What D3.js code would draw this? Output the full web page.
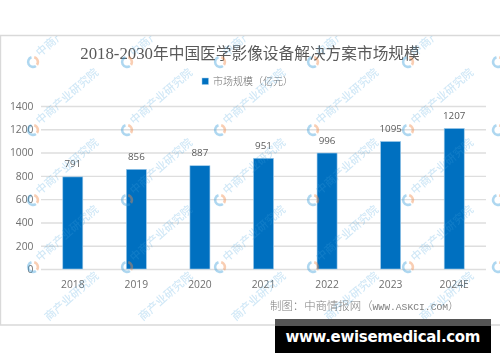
<!DOCTYPE html>
<html><head><meta charset="utf-8">
<script src="https://cdn.jsdelivr.net/npm/d3@7"></script>
<style>html,body{margin:0;padding:0;background:#fff}svg{display:block;filter:blur(0.25px)}</style></head>
<body><div id="c"></div>
<script>
const categories = ["2018","2019","2020","2021","2022","2023","2024E"];
const marketSize = [791,856,887,951,996,1095,1207];
const yTicks = [0,200,400,600,800,1000,1200,1400];
const titleYears = "2018-2030";
const titleRest = "年中国医学影像设备解决方案市场规模";
const legendText = "市场规模（亿元）";
const sourceCjk = "制图：中商情报网（";
const sourceUrl = "WWW.ASKCI.COM";
const sourceEnd = "）";
const bannerText = "www.ewisemedical.com";
const wmFull = "中商产业研究院";
const wmTop = "中商产";
const wmTail = "商产业研究院";
const wmCols = [33,127,220,313,408,498];
const wmRows = [62,130,200,267,335];

const W=500,H=362;
const svg=d3.select("#c").append("svg").attr("width",W).attr("height",H);
const sans="'Open Sans','Noto Sans','Noto Sans CJK SC',sans-serif";
const cjk="'Noto Sans CJK SC',sans-serif";
const x=d3.scaleBand().domain(categories).range([41,486]).paddingInner(0.685).paddingOuter(0.3425);
const y=d3.scaleLinear().domain([0,1400]).range([269,106]);

// frame
const F={l:0.5,t:35.5,b:325};
svg.append("path").attr("d",`M${W},${F.t}H${F.l}V${F.b}H${W}`).attr("fill","none").attr("stroke","#d9d9d9").attr("stroke-width",1.4);

// gridlines and y axis
const yAxis=d3.axisLeft(y).tickValues(yTicks).tickSize(-(486-41)).tickPadding(7.5).tickFormat(d3.format("d"));
const gy=svg.append("g").attr("transform","translate(41,0)").call(yAxis);
gy.select(".domain").remove();
gy.selectAll("line").attr("stroke","#dedede").attr("stroke-width",1.4);
gy.selectAll("text").attr("font-family",sans).attr("font-size",10.3).attr("fill","#6f6f6f");

// bars
svg.append("g").selectAll("rect").data(marketSize).join("rect")
  .attr("x",(d,i)=>x(categories[i])).attr("width",x.bandwidth())
  .attr("y",d=>y(d)).attr("height",d=>y(0)-y(d))
  .attr("fill","#0070c0").attr("stroke","#9ecbea").attr("stroke-width",0.6);

// data labels
svg.append("g").selectAll("text").data(marketSize).join("text")
  .attr("x",(d,i)=>x(categories[i])+x.bandwidth()/2).attr("y",d=>y(d)-9.5)
  .attr("text-anchor","middle").attr("font-family",sans).attr("font-size",9.8).attr("fill","#5a5a5a")
  .text(d=>d);

// x axis labels
const xAxis=d3.axisBottom(x).tickSize(0).tickPadding(12);
const gx=svg.append("g").attr("transform","translate(0,269)").call(xAxis);
gx.select(".domain").remove();
gx.selectAll("text").attr("font-family",sans).attr("font-size",10.3).attr("fill","#6f6f6f");

// title
const title=svg.append("text").attr("x",250).attr("y",59).attr("text-anchor","middle")
  .attr("font-family",cjk).attr("font-size",15.7).attr("font-weight",400).attr("fill","#595959");
title.append("tspan").attr("font-family","'Liberation Serif',serif").attr("font-size",16.8).text(titleYears);
title.append("tspan").text(titleRest);

// legend
svg.append("rect").attr("x",202).attr("y",78).attr("width",6.5).attr("height",6.5).attr("fill","#0070c0").attr("stroke","#9ecbea").attr("stroke-width",0.5);
svg.append("text").attr("x",213).attr("y",85).attr("font-family",cjk).attr("font-size",10).attr("font-weight",300).attr("fill","#6f6f6f").text(legendText);

// source
const src=svg.append("text").attr("x",270).attr("y",310).attr("font-family",cjk).attr("font-size",11.4).attr("font-weight",300).attr("fill","#808080");
src.append("tspan").text(sourceCjk);
src.append("tspan").attr("font-family","'Liberation Mono',monospace").attr("font-size",9.7).text(sourceUrl);
src.append("tspan").text(sourceEnd);

// watermark
svg.append("clipPath").attr("id","fr").append("rect").attr("x",1).attr("y",36).attr("width",W).attr("height",289);
const wm=svg.append("g").attr("clip-path","url(#fr)");
const arc=d3.arc().innerRadius(3.6).outerRadius(6.2);
wmRows.forEach((r,ri)=>wmCols.forEach(c=>{
  const g=wm.append("g").attr("transform",`translate(${c},${r})`);
  g.append("path").attr("d",arc({startAngle:-Math.PI*0.1,endAngle:-Math.PI*1.2})).attr("fill","#3f9fdc").attr("opacity",0.42);
  g.append("path").attr("d",arc({startAngle:Math.PI*0.08,endAngle:Math.PI*0.7})).attr("fill","#f08a4b").attr("opacity",0.42);
  if(c>W-10) return;
  const first=ri===0, last=ri===wmRows.length-1;
  const adv=last?8.7:0;
  g.append("text").attr("transform",`translate(${7+adv},${-5-adv}) rotate(-41)`).attr("font-family",cjk).attr("font-size",11.2)
    .attr("font-weight",500).attr("fill","#3f9fdc").attr("opacity",0.24)
    .text(first?wmTop:last?wmTail:wmFull);
}));

// banner
svg.append("rect").attr("x",275).attr("y",319).attr("width",216).attr("height",34).attr("fill","#000");
svg.append("rect").attr("x",275).attr("y",319).attr("width",216).attr("height",7).attr("fill","#555");
svg.append("text").attr("x",383).attr("y",342).attr("text-anchor","middle").attr("font-family","'DejaVu Sans',sans-serif")
  .attr("font-size",15).attr("font-weight",700).attr("fill","#fff").attr("textLength",195).text(bannerText);
</script></body></html>
